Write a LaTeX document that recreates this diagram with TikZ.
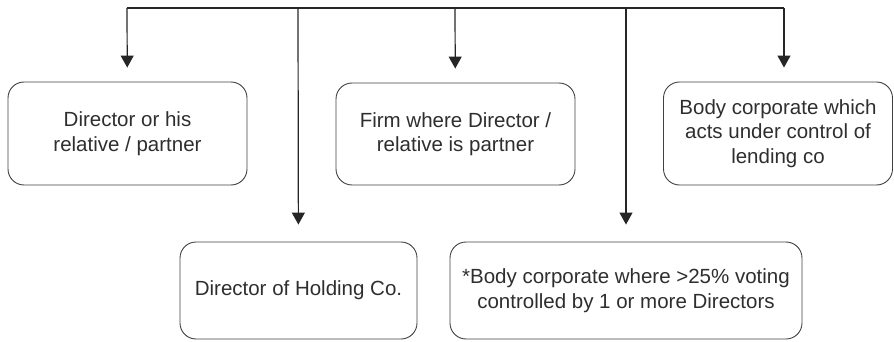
\documentclass[tikz,border=0pt]{standalone}
\usepackage{fontspec}
\setmainfont{Liberation Sans}
\usetikzlibrary{arrows.meta}

\begin{document}
\begin{tikzpicture}
    [
      x=1pt,y=-1pt,
      party/.style={draw=black!75,line width=0.9pt,rectangle,rounded corners=16pt,
        text=black!82,align=center,inner sep=0pt,
        font=\fontsize{20.5}{24.5}\selectfont},
      feed/.style={draw=black!85,line width=1.2pt,
        -{Triangle[width=13pt,length=12pt]},shorten >=14pt},
      bus/.style={draw=black!85,line width=2.6pt}
    ]

    \useasboundingbox (0,0) rectangle (894,342);

    \node at (127.5,133.5) [party,minimum width=239pt,minimum height=103pt]
      (director) {Director or his\\relative / partner};
    \node at (455.5,134) [party,minimum width=239pt,minimum height=102pt]
      (firm) {Firm where Director /\\relative is partner};
    \node at (778,133.5) [party,minimum width=229pt,minimum height=103pt]
      (corp) {Body corporate which\\acts under control of\\lending co};
    \node at (298.5,290.5) [party,minimum width=237pt,minimum height=97pt]
      (holding) {Director of Holding Co.};
    \node at (626,290.5) [party,minimum width=352pt,minimum height=97pt]
      (voting) {*Body corporate where >25\% voting\\controlled by 1 or more Directors};

    \coordinate (b1) at (127,8);
    \coordinate (b2) at (298,8);
    \coordinate (b3) at (455,8);
    \coordinate (b4) at (626,8);
    \coordinate (b5) at (784,8);

    \draw [bus] (b1) -- (b5);

    \draw [feed] (b1) -- (director);
    \draw [feed,shorten >=17pt] (b2) -- (holding);
    \draw [feed] (b3) -- (firm);
    \draw [feed,shorten >=17pt] (b4) -- (voting);
    \draw [feed] (b5) -- (b5 |- corp.north);
  \end{tikzpicture}
\end{document}
